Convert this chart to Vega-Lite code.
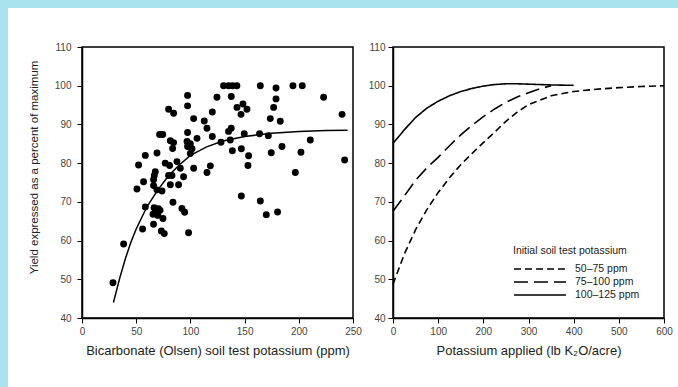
{
  "$schema": "https://vega.github.io/schema/vega-lite/v6.json",
  "usermeta": {"embedOptions": {"actions": false}},
  "padding": 0,
  "background": "white",
  "spacing": 0,
  "config": {
    "font": "Liberation Sans",
    "view": {"stroke": "black", "strokeWidth": 1.5},
    "axis": {
      "grid": false,
      "domainColor": "black",
      "domainWidth": 1.5,
      "tickColor": "black",
      "tickSize": 5,
      "tickWidth": 1,
      "labelFont": "Liberation Sans",
      "labelFontSize": 10,
      "labelColor": "#444",
      "labelPadding": 3,
      "labelFlush": false,
      "labelOverlap": false,
      "titleFont": "Liberation Sans",
      "titleFontSize": 13,
      "titleFontWeight": "normal",
      "titleColor": "#222"
    },
    "legend": {
      "titleFont": "Liberation Sans",
      "labelFont": "Liberation Sans"
    }
  },
  "datasets": {
    "empty": [],
    "scatter": [
      {"k": 97.4, "y": 97.5}, {"k": 97.4, "y": 94.8}, {"k": 79.9, "y": 93.9}, {"k": 84.5, "y": 92.9},
      {"k": 103, "y": 91.5}, {"k": 112.8, "y": 90.9}, {"k": 120.2, "y": 93.2}, {"k": 124.5, "y": 97.0},
      {"k": 130.6, "y": 100}, {"k": 135.2, "y": 100}, {"k": 138.9, "y": 100}, {"k": 142.9, "y": 100},
      {"k": 137.7, "y": 97.2}, {"k": 164.5, "y": 100}, {"k": 179, "y": 99.4}, {"k": 194.6, "y": 100},
      {"k": 203.2, "y": 100}, {"k": 179, "y": 96.6}, {"k": 222.9, "y": 97.0}, {"k": 148.5, "y": 95.3},
      {"k": 143, "y": 94.4}, {"k": 152.2, "y": 93.9}, {"k": 146.7, "y": 92.6}, {"k": 176.8, "y": 94.4},
      {"k": 239.9, "y": 92.6}, {"k": 173.7, "y": 91.5}, {"k": 182.9, "y": 90.8},
      {"k": 115.3, "y": 89.0}, {"k": 135.2, "y": 88.2}, {"k": 137.7, "y": 89.0}, {"k": 120.2, "y": 86.9},
      {"k": 149.7, "y": 87.6}, {"k": 163.8, "y": 87.6}, {"k": 171.9, "y": 87.1}, {"k": 128.2, "y": 85.4},
      {"k": 136.8, "y": 86.0}, {"k": 210.6, "y": 86.0}, {"k": 138.7, "y": 83.2}, {"k": 147, "y": 83.7},
      {"k": 153.7, "y": 81.9}, {"k": 174.6, "y": 82.7}, {"k": 184.5, "y": 84.3}, {"k": 202, "y": 82.8},
      {"k": 242.3, "y": 80.8}, {"k": 71.6, "y": 87.4}, {"k": 74.5, "y": 87.4}, {"k": 97.4, "y": 87.9},
      {"k": 81.5, "y": 85.8}, {"k": 84.5, "y": 85.3}, {"k": 96.9, "y": 85.6}, {"k": 99.9, "y": 85.0},
      {"k": 106.1, "y": 86.4}, {"k": 83.6, "y": 83.8}, {"k": 97.4, "y": 84.3}, {"k": 101.5, "y": 83.7},
      {"k": 58.4, "y": 82.0}, {"k": 69.2, "y": 82.6}, {"k": 99.9, "y": 82.5}, {"k": 52.2, "y": 79.5},
      {"k": 76.8, "y": 80.0}, {"k": 80.8, "y": 79.4}, {"k": 87.6, "y": 80.4}, {"k": 115.3, "y": 77.6},
      {"k": 118.4, "y": 79.3}, {"k": 153.1, "y": 79.4}, {"k": 196.8, "y": 77.6}, {"k": 90.7, "y": 78.7},
      {"k": 103, "y": 78.7}, {"k": 67.6, "y": 77.8}, {"k": 66.7, "y": 76.8}, {"k": 93.7, "y": 76.5},
      {"k": 79.9, "y": 76.8}, {"k": 83, "y": 76.8},
      {"k": 56.8, "y": 75.2}, {"k": 66, "y": 75.7}, {"k": 81.5, "y": 74.4}, {"k": 89.1, "y": 74.4},
      {"k": 50.7, "y": 73.3}, {"k": 69.2, "y": 73.1}, {"k": 73.8, "y": 72.8}, {"k": 66, "y": 74.2},
      {"k": 58.4, "y": 68.7}, {"k": 66.5, "y": 68.5}, {"k": 68, "y": 67.5}, {"k": 70.5, "y": 68.2},
      {"k": 65.5, "y": 66.8}, {"k": 70, "y": 66.5}, {"k": 72, "y": 67.8}, {"k": 74.7, "y": 65.7},
      {"k": 83.9, "y": 69.9}, {"k": 92.2, "y": 68.3}, {"k": 94.7, "y": 67.3}, {"k": 66, "y": 64.2},
      {"k": 55.9, "y": 63.0}, {"k": 73.2, "y": 62.5}, {"k": 75.9, "y": 61.8}, {"k": 98.3, "y": 62.0},
      {"k": 38.4, "y": 59.1}, {"k": 28.6, "y": 49.1}, {"k": 147, "y": 71.5}, {"k": 164.5, "y": 70.2},
      {"k": 170, "y": 66.7}, {"k": 180.4, "y": 67.4}
    ],
    "fit": [
      {"k": 29, "y": 44.0}, {"k": 35, "y": 50.5}, {"k": 40, "y": 55.3}, {"k": 45, "y": 59.5},
      {"k": 50, "y": 63.0}, {"k": 60, "y": 68.8}, {"k": 70, "y": 73.1}, {"k": 80, "y": 76.8},
      {"k": 90, "y": 79.6}, {"k": 100, "y": 82.0}, {"k": 115, "y": 84.2}, {"k": 130, "y": 85.7},
      {"k": 150, "y": 86.9}, {"k": 175, "y": 87.7}, {"k": 200, "y": 88.2}, {"k": 225, "y": 88.4},
      {"k": 245, "y": 88.5}
    ],
    "resp": [
      {"level": "50–75 ppm", "a": 0, "y": 48.7}, {"level": "50–75 ppm", "a": 25, "y": 56.5},
      {"level": "50–75 ppm", "a": 50, "y": 62.8}, {"level": "50–75 ppm", "a": 75, "y": 68.0},
      {"level": "50–75 ppm", "a": 100, "y": 72.4}, {"level": "50–75 ppm", "a": 125, "y": 76.2},
      {"level": "50–75 ppm", "a": 150, "y": 79.6}, {"level": "50–75 ppm", "a": 175, "y": 82.5},
      {"level": "50–75 ppm", "a": 200, "y": 85.3}, {"level": "50–75 ppm", "a": 225, "y": 88.0},
      {"level": "50–75 ppm", "a": 250, "y": 90.8}, {"level": "50–75 ppm", "a": 275, "y": 93.2},
      {"level": "50–75 ppm", "a": 300, "y": 95.1}, {"level": "50–75 ppm", "a": 350, "y": 97.4},
      {"level": "50–75 ppm", "a": 400, "y": 98.5}, {"level": "50–75 ppm", "a": 450, "y": 99.1},
      {"level": "50–75 ppm", "a": 500, "y": 99.5}, {"level": "50–75 ppm", "a": 550, "y": 99.8},
      {"level": "50–75 ppm", "a": 600, "y": 100},
      {"level": "75–100 ppm", "a": 0, "y": 67.6}, {"level": "75–100 ppm", "a": 25, "y": 71.5},
      {"level": "75–100 ppm", "a": 50, "y": 75.6}, {"level": "75–100 ppm", "a": 75, "y": 78.8},
      {"level": "75–100 ppm", "a": 100, "y": 81.5}, {"level": "75–100 ppm", "a": 125, "y": 84.5},
      {"level": "75–100 ppm", "a": 150, "y": 87.3}, {"level": "75–100 ppm", "a": 175, "y": 89.8},
      {"level": "75–100 ppm", "a": 200, "y": 92.0}, {"level": "75–100 ppm", "a": 225, "y": 94.0},
      {"level": "75–100 ppm", "a": 250, "y": 95.7}, {"level": "75–100 ppm", "a": 275, "y": 97.1},
      {"level": "75–100 ppm", "a": 300, "y": 98.2}, {"level": "75–100 ppm", "a": 325, "y": 99.2},
      {"level": "75–100 ppm", "a": 350, "y": 100},
      {"level": "100–125 ppm", "a": 0, "y": 85.1}, {"level": "100–125 ppm", "a": 25, "y": 88.6},
      {"level": "100–125 ppm", "a": 50, "y": 91.8}, {"level": "100–125 ppm", "a": 75, "y": 94.2},
      {"level": "100–125 ppm", "a": 100, "y": 96.0}, {"level": "100–125 ppm", "a": 125, "y": 97.4},
      {"level": "100–125 ppm", "a": 150, "y": 98.5}, {"level": "100–125 ppm", "a": 175, "y": 99.3},
      {"level": "100–125 ppm", "a": 200, "y": 99.9}, {"level": "100–125 ppm", "a": 225, "y": 100.3},
      {"level": "100–125 ppm", "a": 250, "y": 100.5}, {"level": "100–125 ppm", "a": 275, "y": 100.5},
      {"level": "100–125 ppm", "a": 300, "y": 100.4}, {"level": "100–125 ppm", "a": 350, "y": 100.2},
      {"level": "100–125 ppm", "a": 400, "y": 100.1}
    ]
  },
  "hconcat": [
    {
      "width": 8, "height": 387,
      "data": {"name": "empty"},
      "mark": "point",
      "view": {"fill": "#a8e3ee", "stroke": null}
    },
    {
      "spacing": 33,
      "vconcat": [
        {
          "width": 670, "height": 8,
          "data": {"name": "empty"},
          "mark": "point",
          "view": {"fill": "#a8e3ee", "stroke": null}
        },
        {
          "spacing": 0,
          "hconcat": [
            {
              "width": 19, "height": 1,
              "data": {"name": "empty"},
              "mark": "point",
              "view": {"stroke": null}
            },
            {
              "spacing": 4,
              "hconcat": [
                {
                  "width": 271, "height": 271,
                  "encoding": {
                    "x": {"field": "k", "type": "quantitative",
                          "scale": {"domain": [0, 250], "nice": false},
                          "axis": {"values": [0, 50, 100, 150, 200, 250], "title": "Bicarbonate (Olsen) soil test potassium (ppm)", "titlePadding": 8}},
                    "y": {"field": "y", "type": "quantitative",
                          "scale": {"domain": [40, 110], "nice": false, "zero": false},
                          "axis": {"values": [40, 50, 60, 70, 80, 90, 100, 110], "title": "Yield expressed as a percent of maximum", "titleFontSize": 11.5, "titlePadding": 15, "labelPadding": 6, "titleY": 120}}
                  },
                  "layer": [
                    {
                      "data": {"name": "scatter"},
                      "mark": {"type": "circle", "size": 48, "color": "black", "opacity": 1}
                    },
                    {
                      "data": {"name": "fit"},
                      "mark": {"type": "line", "color": "black", "strokeWidth": 1.5}
                    }
                  ]
                },
                {
                  "width": 271, "height": 271,
                  "data": {"name": "resp"},
                  "mark": {"type": "line", "color": "black", "strokeWidth": 1.6},
                  "encoding": {
                    "x": {"field": "a", "type": "quantitative",
                          "scale": {"domain": [0, 600], "nice": false},
                          "axis": {"values": [0, 100, 200, 300, 400, 500, 600], "title": "Potassium applied (lb K₂O/acre)", "titlePadding": 8}},
                    "y": {"field": "y", "type": "quantitative",
                          "scale": {"domain": [40, 110], "nice": false, "zero": false},
                          "axis": {"values": [40, 50, 60, 70, 80, 90, 100, 110], "title": null}},
                    "strokeDash": {"field": "level", "type": "nominal",
                                   "scale": {"domain": ["50–75 ppm", "75–100 ppm", "100–125 ppm"], "range": [[7, 4], [14, 6], [1, 0]]},
                                   "legend": {
                                     "title": "Initial soil test potassium",
                                     "orient": "none", "legendX": 513, "legendY": 246,
                                     "titleFontSize": 10.5, "titleFontWeight": "normal", "titleColor": "#222", "titlePadding": 6,
                                     "labelFontSize": 10.5, "labelColor": "#222", "labelOffset": 8,
                                     "symbolType": "stroke", "symbolSize": 2704, "symbolStrokeWidth": 1.6, "symbolStrokeColor": "black",
                                     "clipHeight": 13, "rowPadding": 0
                                   }}
                  }
                }
              ]
            }
          ]
        }
      ]
    }
  ]
}
